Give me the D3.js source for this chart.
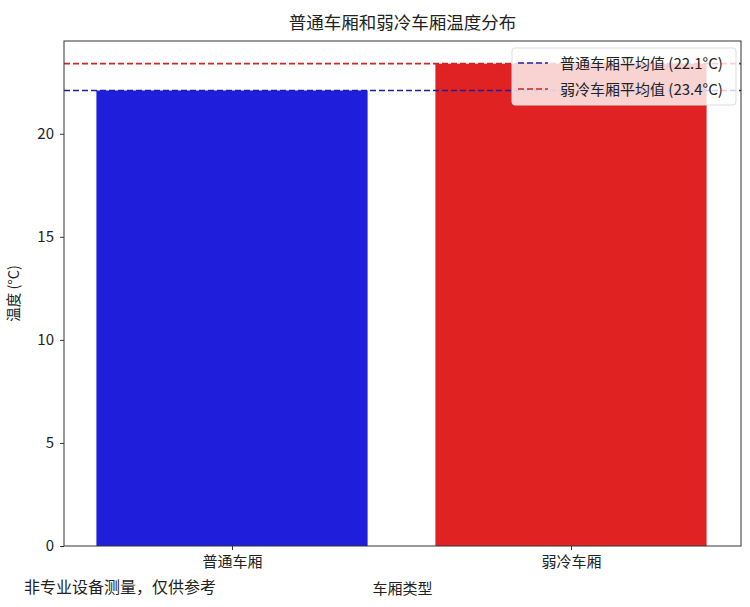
<!DOCTYPE html>
<meta charset="utf-8" />
<script src="https://d3js.org/d3.v7.min.js"></script>
<style>
  body { margin: 0; background: #fff; }
  text { font-family: "Noto Sans CJK SC", "DejaVu Sans", sans-serif; fill: #222; }
</style>
<div id="chart"></div>
<script>
  // data
  const categories = ["普通车厢", "弱冷车厢"];
  const temps = [22.1, 23.4];
  const barColors = ["#1f1fdb", "#e02222"];
  const meanColors = ["#1c1ca8", "#cc2626"];
  const meanLabels = ["普通车厢平均值 (22.1°C)", "弱冷车厢平均值 (23.4°C)"];
  const yTicks = [0, 5, 10, 15, 20];

  const W = 750, H = 607;
  const margin = { top: 41, right: 9, bottom: 61, left: 64 };
  const innerW = W - margin.left - margin.right;
  const innerH = H - margin.top - margin.bottom;

  const svg = d3.select("#chart").append("svg")
    .attr("width", W).attr("height", H);

  const g = svg.append("g")
    .attr("transform", "translate(" + margin.left + "," + margin.top + ")");

  // index scale like matplotlib, bar width 0.8
  const x = d3.scaleLinear().domain([-0.4956, 1.5015]).range([0, innerW]);
  const barW = x(0.8) - x(0);
  const y = d3.scaleLinear().domain([0, 24.5]).range([innerH, 0]);

  // bars
  g.selectAll(".bar").data(temps).enter().append("rect")
    .attr("x", (d, i) => x(i) - barW / 2)
    .attr("y", d => y(d))
    .attr("width", barW)
    .attr("height", d => innerH - y(d))
    .attr("fill", (d, i) => barColors[i]);

  // mean lines
  g.selectAll(".mean").data(temps).enter().append("line")
    .attr("x1", 0).attr("x2", innerW)
    .attr("y1", d => y(d)).attr("y2", d => y(d))
    .attr("stroke", (d, i) => meanColors[i])
    .attr("stroke-width", 1.6)
    .attr("stroke-dasharray", "6,3");

  // axes
  const yAxis = g.append("g").call(d3.axisLeft(y).tickValues(yTicks).tickSize(4).tickPadding(6));
  const xAxis = g.append("g").attr("transform", "translate(0," + innerH + ")")
    .call(d3.axisBottom(x).tickValues([0, 1]).tickFormat((d) => categories[d]).tickSize(4).tickPadding(6));
  [yAxis, xAxis].forEach(a => {
    a.select(".domain").remove();
    a.selectAll("text").style("font-size", "15px").style("fill", "#222");
    a.selectAll("line").attr("stroke", "#333");
  });

  // frame
  g.append("rect").attr("width", innerW).attr("height", innerH)
    .attr("fill", "none").attr("stroke", "#333").attr("stroke-width", 1);

  // legend
  const leg = g.append("g").attr("transform", "translate(" + (512 - margin.left) + "," + (48 - margin.top) + ")");
  leg.append("rect").attr("width", 224).attr("height", 57).attr("rx", 3)
    .attr("fill", "rgba(255,255,255,0.8)").attr("stroke", "#ddd");
  meanLabels.forEach((t, i) => {
    const row = leg.append("g").attr("transform", "translate(0," + (15 + i * 26) + ")");
    row.append("line").attr("x1", 6).attr("x2", 36)
      .attr("stroke", meanColors[i]).attr("stroke-width", 1.6).attr("stroke-dasharray", "6,3");
    row.append("text").attr("x", 48).attr("y", 5.5).style("font-size", "15px").text(t);
  });

  // titles
  svg.append("text").attr("x", margin.left + innerW / 2).attr("y", 29)
    .attr("text-anchor", "middle").style("font-size", "17.5px").text("普通车厢和弱冷车厢温度分布");
  svg.append("text").attr("x", margin.left + innerW / 2).attr("y", 594)
    .attr("text-anchor", "middle").style("font-size", "15px").text("车厢类型");
  svg.append("text").attr("transform", "translate(19," + (margin.top + innerH / 2) + ") rotate(-90)")
    .attr("text-anchor", "middle").style("font-size", "14.5px").text("温度 (°C)");
  svg.append("text").attr("x", 24).attr("y", 593)
    .style("font-size", "16px").text("非专业设备测量，仅供参考");
</script>
